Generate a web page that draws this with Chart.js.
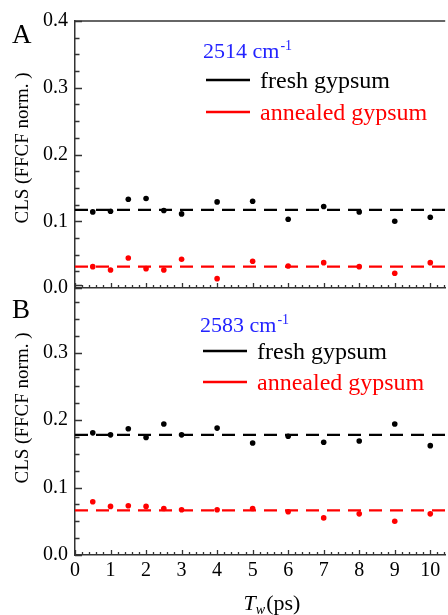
<!DOCTYPE html>
<html>
<head>
<meta charset="utf-8">
<script src="https://cdn.jsdelivr.net/npm/chart.js@4/dist/chart.umd.min.js"></script>
<style>
  html, body { margin: 0; padding: 0; background: #fff; }
  #wrap { position: relative; width: 448px; height: 615px; overflow: hidden; }
  #wrap canvas { position: absolute; left: 0; top: 0; }
</style>
</head>
<body>
<div id="wrap">
  <canvas id="panelA" width="448" height="615"></canvas>
  <canvas id="panelB" width="448" height="615"></canvas>
</div>
<script>
// Waiting times (ps)
const waitingTimes = [0.5, 1, 1.5, 2, 2.5, 3, 4, 5, 6, 7, 8, 9, 10];

// Panel A: 2514 cm-1
const freshA    = [0.114, 0.115, 0.133, 0.134, 0.116, 0.111, 0.129, 0.130, 0.103, 0.122, 0.114, 0.100, 0.106];
const annealedA = [0.032, 0.027, 0.045, 0.029, 0.027, 0.043, 0.014, 0.040, 0.033, 0.038, 0.032, 0.022, 0.038];
const fitFreshA = 0.117;
const fitAnnealedA = 0.032;

// Panel B: 2583 cm-1
const freshB    = [0.181, 0.178, 0.187, 0.174, 0.194, 0.178, 0.188, 0.166, 0.176, 0.167, 0.169, 0.194, 0.162];
const annealedB = [0.079, 0.072, 0.073, 0.072, 0.069, 0.067, 0.067, 0.069, 0.064, 0.055, 0.061, 0.050, 0.061];
const fitFreshB = 0.178;
const fitAnnealedB = 0.066;

// Axis ticks
const xTickValues = [0, 1, 2, 3, 4, 5, 6, 7, 8, 9, 10];
const yTickValues = [0, 0.1, 0.2, 0.3, 0.4];
const xMax = 10.42;

const SERIF = '"Liberation Serif", "Times New Roman", serif';
const AXIS_COLOR = '#333';
const BLUE = 'rgb(35,35,255)';
const RED = '#ff0000';

function pts(xs, ys) { return xs.map((x, i) => ({ x: x, y: ys[i] })); }
function flat(v) { return [{ x: 0, y: v }, { x: xMax, y: v }]; }

function datasets(fresh, annealed, fitFresh, fitAnnealed) {
  const dots = (data, color) => ({
    type: 'scatter', data: data, order: 1,
    backgroundColor: color, borderColor: color, borderWidth: 0,
    pointRadius: 2.8, pointHoverRadius: 2.8, showLine: false
  });
  const dash = (data, color) => ({
    type: 'line', data: data, order: 2,
    borderColor: color, borderWidth: 2.2, borderDash: [13, 8],
    pointRadius: 0, fill: false, tension: 0
  });
  return [
    dots(pts(waitingTimes, fresh), '#000'),
    dots(pts(waitingTimes, annealed), RED),
    dash(flat(fitFresh), '#000'),
    dash(flat(fitAnnealed), RED)
  ];
}

// Inward tick marks plus panel annotations
function panelDecor(cfg) {
  return {
    id: 'panelDecor',
    afterDraw(chart) {
      const ctx = chart.ctx;
      const xs = chart.scales.x, ys = chart.scales.y;
      const area = chart.chartArea;
      ctx.save();
      ctx.strokeStyle = AXIS_COLOR;
      ctx.lineWidth = 1.3;
      ctx.beginPath();
      // x ticks: major every 1, minor every 0.2
      for (let k = 0; k <= 52; k++) {
        const v = k * 0.2;
        if (v > xMax) break;
        const px = Math.round(xs.getPixelForValue(v)) + 0.5;
        const len = (k % 5 === 0) ? 5 : 3;
        ctx.moveTo(px, area.bottom);
        ctx.lineTo(px, area.bottom - len);
      }
      // y ticks: major every 0.1, minor every 0.025
      for (let k = 0; k <= 16; k++) {
        const v = k * 0.025;
        const py = Math.round(ys.getPixelForValue(v)) + 0.5;
        const len = (k % 4 === 0) ? 7 : 4.5;
        ctx.moveTo(area.left, py);
        ctx.lineTo(area.left + len, py);
      }
      ctx.stroke();
      if (cfg.topBorder) {
        ctx.lineWidth = 1.5;
        ctx.beginPath();
        ctx.moveTo(area.left, area.top);
        ctx.lineTo(area.right, area.top);
        ctx.stroke();
      }

      // panel letter
      ctx.fillStyle = '#000';
      ctx.textAlign = 'left';
      ctx.textBaseline = 'alphabetic';
      ctx.font = '27px ' + SERIF;
      ctx.fillText(cfg.letter, cfg.letterPos[0], cfg.letterPos[1]);

      // band title with superscript
      ctx.fillStyle = BLUE;
      ctx.font = '22px ' + SERIF;
      ctx.fillText(cfg.band + ' cm', cfg.titlePos[0], cfg.titlePos[1]);
      const w = ctx.measureText(cfg.band + ' cm').width;
      ctx.font = '14px ' + SERIF;
      ctx.fillText('-1', cfg.titlePos[0] + w + 1, cfg.titlePos[1] - 8);

      // legend
      const L = cfg.legend;
      ctx.lineWidth = 2.4;
      ctx.strokeStyle = '#000';
      ctx.beginPath(); ctx.moveTo(L.x0, L.y1); ctx.lineTo(L.x1, L.y1); ctx.stroke();
      ctx.strokeStyle = RED;
      ctx.beginPath(); ctx.moveTo(L.x0, L.y2); ctx.lineTo(L.x1, L.y2); ctx.stroke();
      ctx.font = '24px ' + SERIF;
      ctx.fillStyle = '#000';
      ctx.fillText('fresh gypsum', L.tx, L.y1 + 8);
      ctx.fillStyle = RED;
      ctx.fillText('annealed gypsum', L.tx, L.y2 + 8);

      // y axis title
      ctx.save();
      ctx.translate(cfg.yTitlePos[0], cfg.yTitlePos[1]);
      ctx.rotate(-Math.PI / 2);
      ctx.textAlign = 'center';
      ctx.textBaseline = 'middle';
      ctx.fillStyle = '#000';
      ctx.font = '19px ' + SERIF;
      ctx.fillText('CLS (FFCF norm. )', 0, 0);
      ctx.restore();

      // x axis title: T_w (ps)
      if (cfg.xTitle) {
        ctx.fillStyle = '#000';
        ctx.textAlign = 'left';
        ctx.textBaseline = 'alphabetic';
        const bx = cfg.xTitle[0], by = cfg.xTitle[1];
        ctx.font = 'italic 22px ' + SERIF;
        const wT = ctx.measureText('T').width;
        ctx.font = 'italic 14px ' + SERIF;
        const wW = ctx.measureText('w').width + 1;
        ctx.font = '22px ' + SERIF;
        const wP = ctx.measureText('(ps)').width;
        let x = bx - (wT + wW + wP) / 2;
        ctx.font = 'italic 22px ' + SERIF;
        ctx.fillText('T', x, by); x += wT;
        ctx.font = 'italic 14px ' + SERIF;
        ctx.fillText('w', x, by + 4); x += wW;
        ctx.font = '22px ' + SERIF;
        ctx.fillText('(ps)', x, by);
      }
      ctx.restore();
    }
  };
}

function makePanel(id, data, opts) {
  return new Chart(document.getElementById(id), {
    data: { datasets: data },
    options: {
      responsive: false,
      animation: false,
      devicePixelRatio: 1,
      events: [],
      layout: { padding: { top: opts.top, bottom: opts.bottom, left: 0, right: 0 } },
      plugins: { legend: { display: false }, tooltip: { enabled: false } },
      scales: {
        x: {
          type: 'linear', min: 0, max: xMax,
          afterBuildTicks: s => { s.ticks = xTickValues.map(v => ({ value: v })); },
          afterFit: s => { s.height = opts.xHeight; },
          grid: { display: false, drawTicks: false },
          border: { display: true, color: AXIS_COLOR, width: 1.5 },
          ticks: {
            display: opts.xLabels, padding: 4, color: '#000', maxRotation: 0,
            font: { family: SERIF, size: 20 },
            callback: v => String(v)
          }
        },
        y: {
          type: 'linear', min: 0, max: 0.4,
          afterBuildTicks: s => { s.ticks = yTickValues.map(v => ({ value: v })); },
          afterFit: s => { s.width = 75; },
          grid: { display: false, drawTicks: false },
          border: { display: true, color: AXIS_COLOR, width: 1.5 },
          ticks: {
            padding: 7, color: '#000',
            font: { family: SERIF, size: 20 },
            callback: v => (opts.hideTop && v > 0.35) ? '' : v.toFixed(1)
          }
        }
      }
    },
    plugins: [panelDecor(opts.decor)]
  });
}

makePanel('panelA', datasets(freshA, annealedA, fitFreshA, fitAnnealedA), {
  top: 21, bottom: 327, xHeight: 0, xLabels: false, hideTop: false,
  decor: {
    letter: 'A', letterPos: [12, 43], band: '2514', titlePos: [203, 58],
    legend: { x0: 206, x1: 250, y1: 80, y2: 112, tx: 260 },
    yTitlePos: [23, 148], topBorder: true
  }
});

makePanel('panelB', datasets(freshB, annealedB, fitFreshB, fitAnnealedB), {
  top: 285, bottom: 0, xHeight: 60, xLabels: true, hideTop: true,
  decor: {
    letter: 'B', letterPos: [12, 318], band: '2583', titlePos: [200, 332],
    legend: { x0: 203, x1: 247, y1: 351, y2: 382, tx: 257 },
    yTitlePos: [23, 408], xTitle: [272, 610], topBorder: false
  }
});
</script>
</body>
</html>
